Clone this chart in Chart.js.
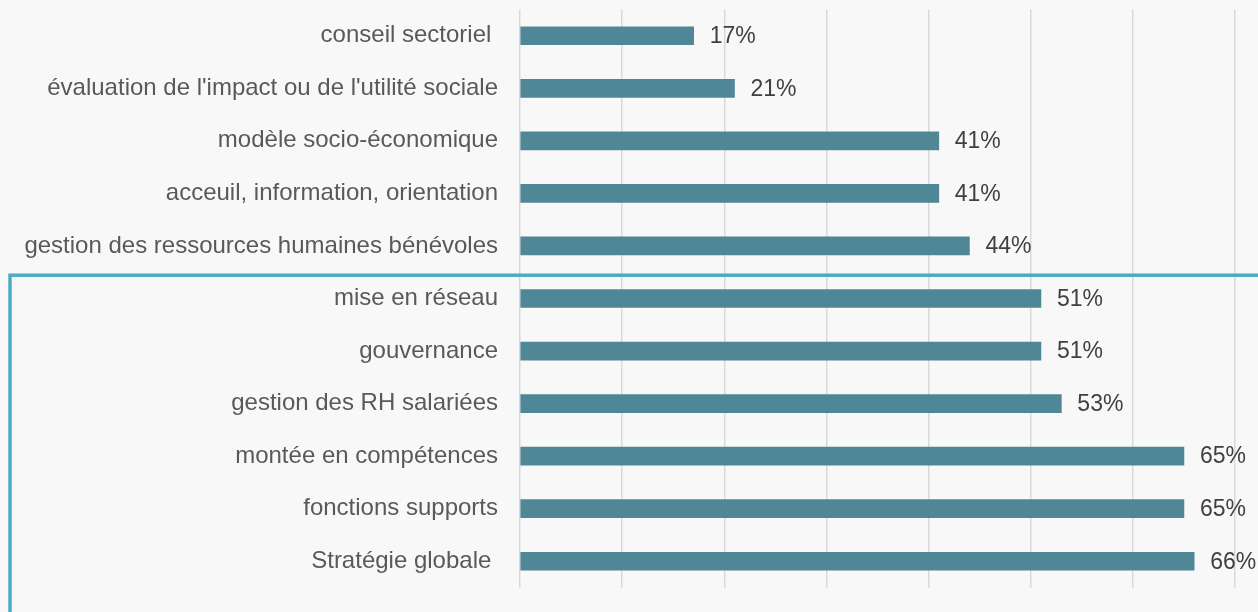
<!DOCTYPE html>
<html>
<head>
<meta charset="utf-8">
<script src="https://cdn.jsdelivr.net/npm/chart.js@4/dist/chart.umd.min.js"></script>
<style>
  html, body { margin: 0; padding: 0; background: #f8f8f8; }
  #wrap { width: 1258px; height: 612px; position: relative; }
</style>
</head>
<body>
<div id="wrap"><canvas id="besoinsChart"></canvas></div>
<script>
// Categories (top to bottom) and values in %
const categories = [
    'conseil sectoriel ',
    "évaluation de l'impact ou de l'utilité sociale",
    'modèle socio-économique',
    'acceuil, information, orientation',
    'gestion des ressources humaines bénévoles',
    'mise en réseau',
    'gouvernance',
    'gestion des RH salariées',
    'montée en compétences',
    'fonctions supports',
    'Stratégie globale '
];
const percentages = [17, 21, 41, 41, 44, 51, 51, 53, 65, 65, 66];

// Index of the first category inside the highlighted frame
const frameStartIndex = 5;

// Plugin: percentage labels after each bar
const valueLabels = {
    id: 'valueLabels',
    afterDatasetsDraw(chart) {
        const ctx = chart.ctx;
        const meta = chart.getDatasetMeta(0);
        ctx.save();
        ctx.font = '23px "Liberation Sans", Arial, sans-serif';
        ctx.fillStyle = '#404040';
        ctx.textAlign = 'left';
        ctx.textBaseline = 'middle';
        meta.data.forEach((bar, i) => {
            ctx.fillText(percentages[i] + '%', bar.x + 16, bar.y + 1);
        });
        ctx.restore();
    }
};

// Plugin: blue frame around the lower group of categories
const highlightFrame = {
    id: 'highlightFrame',
    afterDraw(chart) {
        const y = chart.scales.y;
        const top = (y.getPixelForValue(frameStartIndex - 1) + y.getPixelForValue(frameStartIndex)) / 2 + 3;
        const ctx = chart.ctx;
        ctx.save();
        ctx.strokeStyle = '#4bacc6';
        ctx.lineWidth = 3.5;
        ctx.strokeRect(10, top, chart.width + 50, chart.height);
        ctx.restore();
    }
};

const ctx = document.getElementById('besoinsChart').getContext('2d');
new Chart(ctx, {
    type: 'bar',
    data: {
        labels: categories,
        datasets: [{
            data: percentages,
            backgroundColor: '#4f8796',
            borderWidth: 0,
            barThickness: 18
        }]
    },
    options: {
        indexAxis: 'y',
        responsive: true,
        maintainAspectRatio: false,
        animation: false,
        devicePixelRatio: 1,
        layout: {
            padding: { top: 9.5, bottom: 24.5, right: 23, left: 0 }
        },
        plugins: {
            legend: { display: false },
            tooltip: { enabled: false }
        },
        scales: {
            x: {
                min: 0,
                max: 70,
                afterFit(scale) { scale.height = 0; },
                ticks: { display: false, stepSize: 10 },
                grid: { color: '#d9d9d9', lineWidth: 1.5, drawTicks: false },
                border: { display: false }
            },
            y: {
                afterFit(scale) {
                    scale.width = 520;
                    scale.paddingTop = 0;
                    scale.paddingBottom = 0;
                },
                ticks: {
                    padding: 22,
                    color: '#595959',
                    font: { family: '"Liberation Sans", Arial, sans-serif', size: 24 }
                },
                grid: { display: false, drawTicks: false },
                border: { display: false }
            }
        }
    },
    plugins: [valueLabels, highlightFrame]
});
</script>
</body>
</html>
